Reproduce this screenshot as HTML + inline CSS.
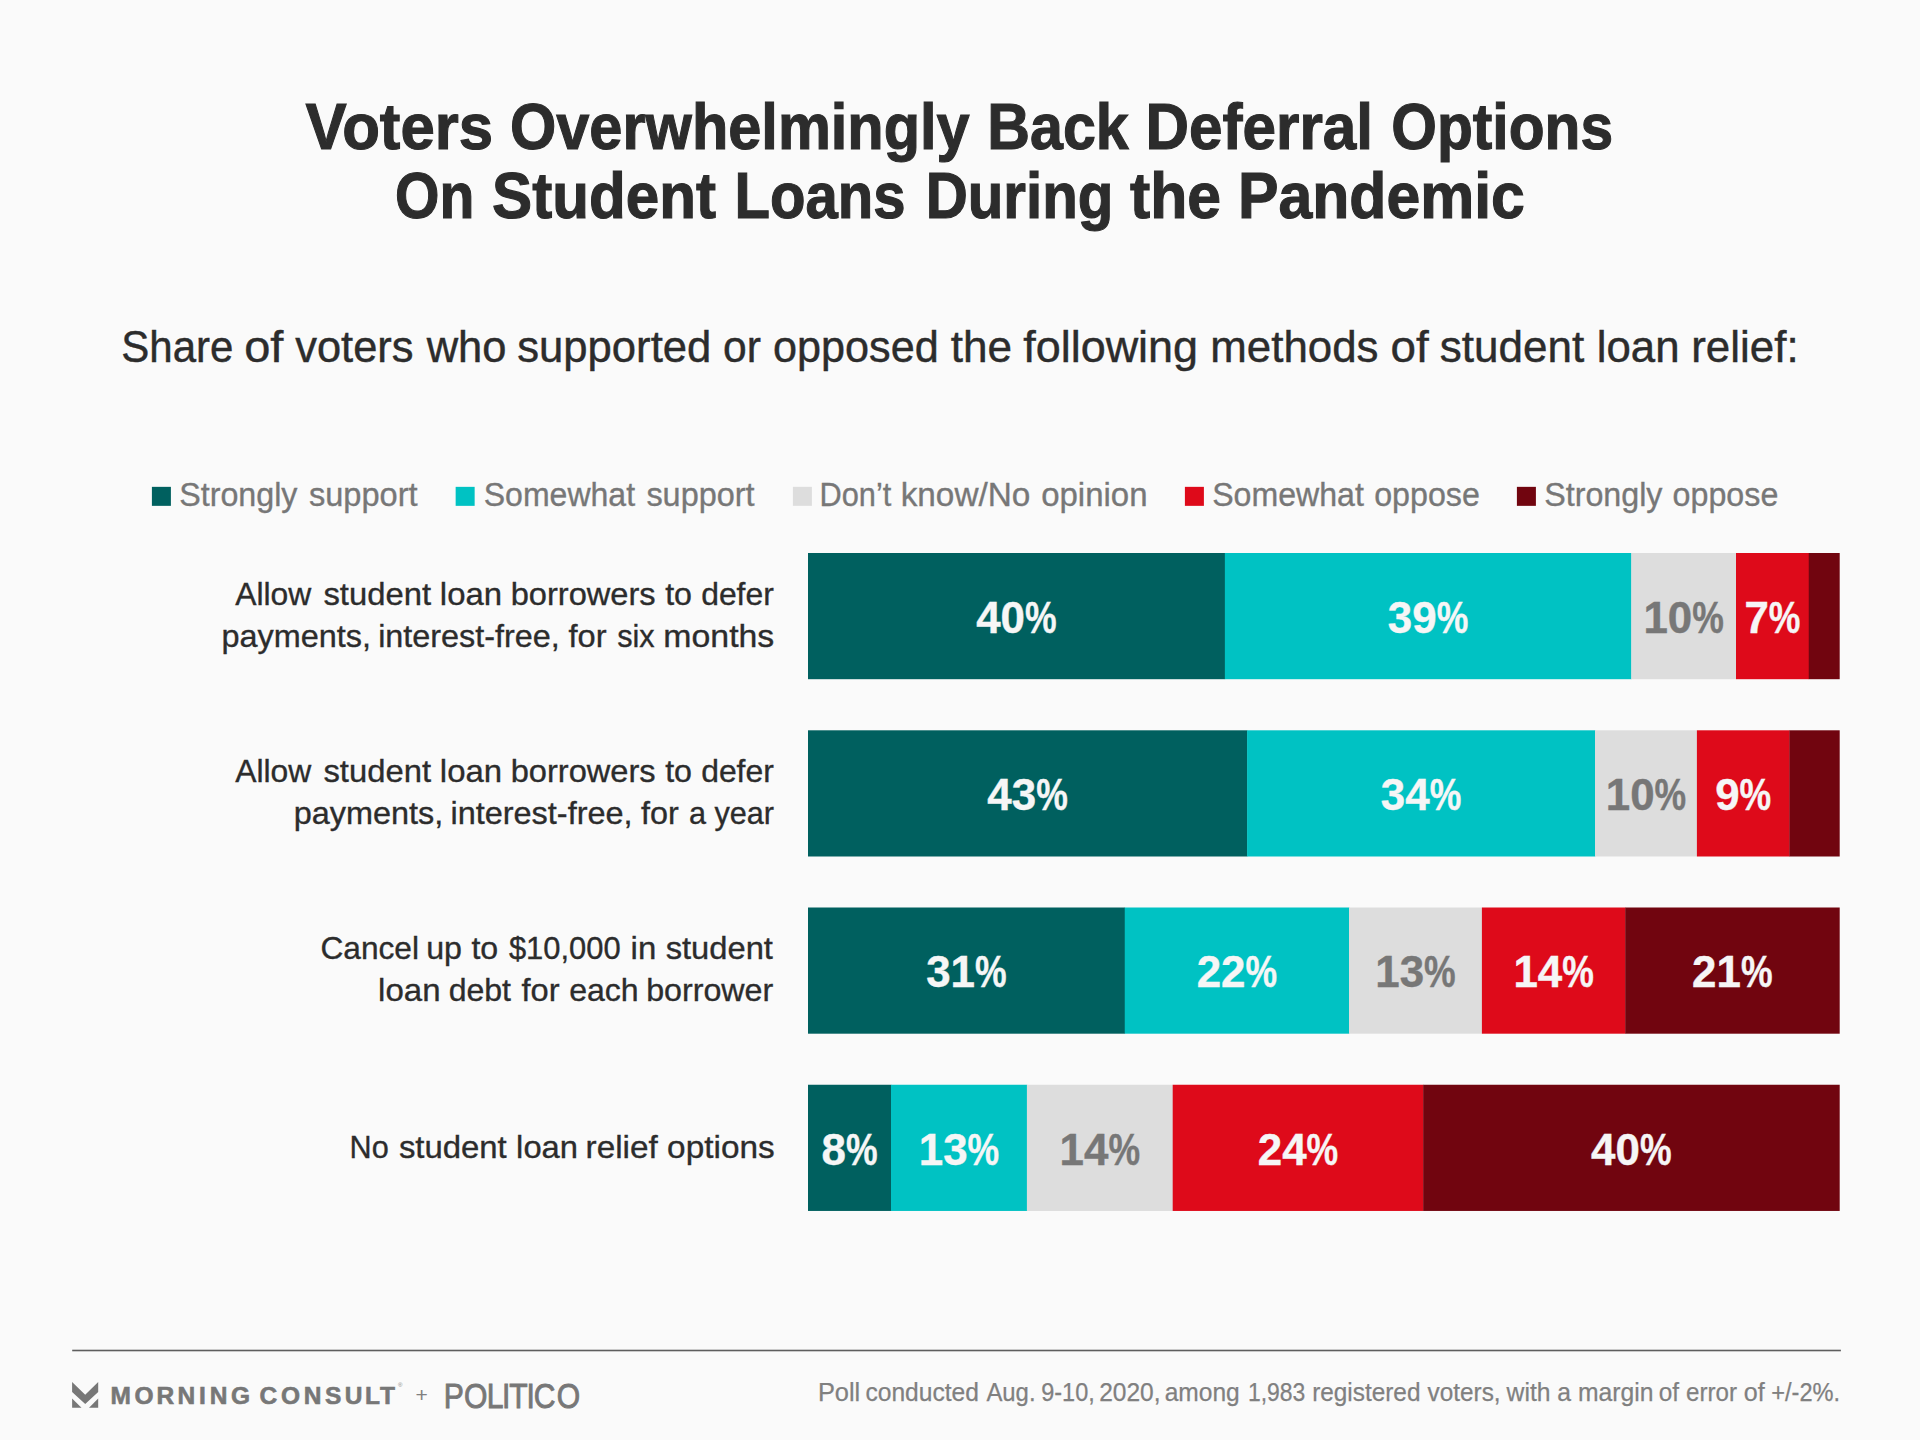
<!DOCTYPE html>
<html lang="en">
<head>
<meta charset="utf-8">
<title>Voters Overwhelmingly Back Deferral Options On Student Loans During the Pandemic</title>
<style>
html,body{margin:0;padding:0;background:#fafafa;}
body{width:1920px;height:1440px;overflow:hidden;}
svg{display:block;}
text{font-family:"Liberation Sans", Arial, sans-serif;}
</style>
</head>
<body>
<svg class="chart-card" role="img" width="1920" height="1440" viewBox="0 0 1920 1440">
<rect class="background" x="0" y="0" width="1920" height="1440" fill="#fafafa"/>
<g class="title">
<text y="149.30" font-size="64.30" font-weight="700" fill="#2c2c2c" stroke="#2c2c2c" stroke-width="1.10"><tspan x="305.55" textLength="187.59" lengthAdjust="spacingAndGlyphs">Voters</tspan> <tspan x="509.95" textLength="459.78" lengthAdjust="spacingAndGlyphs">Overwhelmingly</tspan> <tspan x="987.37" textLength="141.36" lengthAdjust="spacingAndGlyphs">Back</tspan> <tspan x="1145.56" textLength="227.51" lengthAdjust="spacingAndGlyphs">Deferral</tspan> <tspan x="1391.22" textLength="221.83" lengthAdjust="spacingAndGlyphs">Options</tspan></text>
<text y="218.30" font-size="64.30" font-weight="700" fill="#2c2c2c" stroke="#2c2c2c" stroke-width="1.10"><tspan x="395.02" textLength="79.34" lengthAdjust="spacingAndGlyphs">On</tspan> <tspan x="492.11" textLength="223.97" lengthAdjust="spacingAndGlyphs">Student</tspan> <tspan x="734.44" textLength="171.10" lengthAdjust="spacingAndGlyphs">Loans</tspan> <tspan x="925.68" textLength="187.65" lengthAdjust="spacingAndGlyphs">During</tspan> <tspan x="1130.05" textLength="91.06" lengthAdjust="spacingAndGlyphs">the</tspan> <tspan x="1238.02" textLength="286.84" lengthAdjust="spacingAndGlyphs">Pandemic</tspan></text>
</g>
<g class="subtitle">
<text y="361.52" font-size="44.60" font-weight="400" fill="#2c2c2c" stroke="#2c2c2c" stroke-width="0.45"><tspan x="121.34" textLength="112.13" lengthAdjust="spacingAndGlyphs">Share</tspan> <tspan x="244.17" textLength="39.21" lengthAdjust="spacingAndGlyphs">of</tspan> <tspan x="295.23" textLength="118.31" lengthAdjust="spacingAndGlyphs">voters</tspan> <tspan x="426.70" textLength="79.83" lengthAdjust="spacingAndGlyphs">who</tspan> <tspan x="517.25" textLength="194.02" lengthAdjust="spacingAndGlyphs">supported</tspan> <tspan x="723.02" textLength="37.86" lengthAdjust="spacingAndGlyphs">or</tspan> <tspan x="773.01" textLength="165.73" lengthAdjust="spacingAndGlyphs">opposed</tspan> <tspan x="950.73" textLength="61.33" lengthAdjust="spacingAndGlyphs">the</tspan> <tspan x="1023.23" textLength="174.87" lengthAdjust="spacingAndGlyphs">following</tspan> <tspan x="1210.26" textLength="168.29" lengthAdjust="spacingAndGlyphs">methods</tspan> <tspan x="1390.45" textLength="38.20" lengthAdjust="spacingAndGlyphs">of</tspan> <tspan x="1439.74" textLength="144.43" lengthAdjust="spacingAndGlyphs">student</tspan> <tspan x="1596.78" textLength="82.74" lengthAdjust="spacingAndGlyphs">loan</tspan> <tspan x="1691.26" textLength="107.36" lengthAdjust="spacingAndGlyphs">relief:</tspan></text>
</g>
<g class="legend">
<g class="legend-item">
<rect class="swatch" x="151.90" y="486.85" width="19" height="19" fill="#00605f"/>
<text y="505.82" font-size="33.30" font-weight="400" fill="#777777" stroke="#777777" stroke-width="0.35"><tspan x="179.21" textLength="118.28" lengthAdjust="spacingAndGlyphs">Strongly</tspan> <tspan x="308.93" textLength="108.65" lengthAdjust="spacingAndGlyphs">support</tspan></text>
</g>
<g class="legend-item">
<rect class="swatch" x="455.65" y="486.85" width="19" height="19" fill="#00c2c3"/>
<text y="505.82" font-size="33.30" font-weight="400" fill="#777777" stroke="#777777" stroke-width="0.35"><tspan x="483.71" textLength="151.35" lengthAdjust="spacingAndGlyphs">Somewhat</tspan> <tspan x="646.42" textLength="108.14" lengthAdjust="spacingAndGlyphs">support</tspan></text>
</g>
<g class="legend-item">
<rect class="swatch" x="792.90" y="486.85" width="19" height="19" fill="#dddddd"/>
<text y="505.82" font-size="33.30" font-weight="400" fill="#777777" stroke="#777777" stroke-width="0.35"><tspan x="819.58" textLength="71.73" lengthAdjust="spacingAndGlyphs">Don’t</tspan> <tspan x="900.67" textLength="129.67" lengthAdjust="spacingAndGlyphs">know/No</tspan> <tspan x="1041.18" textLength="106.39" lengthAdjust="spacingAndGlyphs">opinion</tspan></text>
</g>
<g class="legend-item">
<rect class="swatch" x="1184.90" y="486.85" width="19" height="19" fill="#de0a1a"/>
<text y="505.82" font-size="33.30" font-weight="400" fill="#777777" stroke="#777777" stroke-width="0.35"><tspan x="1212.21" textLength="151.61" lengthAdjust="spacingAndGlyphs">Somewhat</tspan> <tspan x="1374.21" textLength="105.62" lengthAdjust="spacingAndGlyphs">oppose</tspan></text>
</g>
<g class="legend-item">
<rect class="swatch" x="1516.90" y="486.85" width="19" height="19" fill="#71050f"/>
<text y="505.82" font-size="33.30" font-weight="400" fill="#777777" stroke="#777777" stroke-width="0.35"><tspan x="1544.21" textLength="118.28" lengthAdjust="spacingAndGlyphs">Strongly</tspan> <tspan x="1672.61" textLength="105.72" lengthAdjust="spacingAndGlyphs">oppose</tspan></text>
</g>
</g>
<g class="chart">
<g class="row">
<g class="row-label">
<text y="604.62" font-size="32.20" font-weight="400" fill="#2c2c2c" stroke="#2c2c2c" stroke-width="0.35"><tspan x="235.18" textLength="76.10" lengthAdjust="spacingAndGlyphs">Allow</tspan> <tspan x="323.48" textLength="107.59" lengthAdjust="spacingAndGlyphs">student</tspan> <tspan x="439.83" textLength="62.24" lengthAdjust="spacingAndGlyphs">loan</tspan> <tspan x="510.65" textLength="144.98" lengthAdjust="spacingAndGlyphs">borrowers</tspan> <tspan x="665.17" textLength="26.85" lengthAdjust="spacingAndGlyphs">to</tspan> <tspan x="701.19" textLength="72.56" lengthAdjust="spacingAndGlyphs">defer</tspan></text>
<text y="646.53" font-size="32.20" font-weight="400" fill="#2c2c2c" stroke="#2c2c2c" stroke-width="0.35"><tspan x="221.46" textLength="149.52" lengthAdjust="spacingAndGlyphs">payments,</tspan> <tspan x="378.16" textLength="181.61" lengthAdjust="spacingAndGlyphs">interest-free,</tspan> <tspan x="568.47" textLength="38.06" lengthAdjust="spacingAndGlyphs">for</tspan> <tspan x="617.17" textLength="37.44" lengthAdjust="spacingAndGlyphs">six</tspan> <tspan x="663.37" textLength="110.90" lengthAdjust="spacingAndGlyphs">months</tspan></text>
</g>
<g class="bar">
<rect class="segment" x="808.00" y="553.00" width="417.15" height="126.20" fill="#00605f"/>
<rect class="segment" x="1224.85" y="553.00" width="406.70" height="126.20" fill="#00c2c3"/>
<rect class="segment" x="1631.25" y="553.00" width="105.05" height="126.20" fill="#dddddd"/>
<rect class="segment" x="1736.00" y="553.00" width="73.05" height="126.20" fill="#de0a1a"/>
<rect class="segment" x="1808.75" y="553.00" width="30.95" height="126.20" fill="#71050f"/>
<text y="633.00" font-size="44.40" font-weight="700" fill="#f6f6f6" stroke="#f6f6f6" stroke-width="0.40"><tspan x="976.22" textLength="48.80" lengthAdjust="spacingAndGlyphs">40</tspan><tspan x="1025.02" textLength="31.60" lengthAdjust="spacingAndGlyphs">%</tspan></text>
<text y="633.00" font-size="44.40" font-weight="700" fill="#f6f6f6" stroke="#f6f6f6" stroke-width="0.40"><tspan x="1387.85" textLength="48.80" lengthAdjust="spacingAndGlyphs">39</tspan><tspan x="1436.65" textLength="31.60" lengthAdjust="spacingAndGlyphs">%</tspan></text>
<text y="633.00" font-size="44.40" font-weight="700" fill="#777777" stroke="#777777" stroke-width="0.40"><tspan x="1643.42" textLength="48.80" lengthAdjust="spacingAndGlyphs">10</tspan><tspan x="1692.22" textLength="31.60" lengthAdjust="spacingAndGlyphs">%</tspan></text>
<text y="633.00" font-size="44.40" font-weight="700" fill="#f6f6f6" stroke="#f6f6f6" stroke-width="0.40"><tspan x="1744.38" textLength="24.40" lengthAdjust="spacingAndGlyphs">7</tspan><tspan x="1768.78" textLength="31.60" lengthAdjust="spacingAndGlyphs">%</tspan></text>
</g>
</g>
<g class="row">
<g class="row-label">
<text y="782.03" font-size="32.20" font-weight="400" fill="#2c2c2c" stroke="#2c2c2c" stroke-width="0.35"><tspan x="235.18" textLength="76.10" lengthAdjust="spacingAndGlyphs">Allow</tspan> <tspan x="323.48" textLength="107.59" lengthAdjust="spacingAndGlyphs">student</tspan> <tspan x="439.83" textLength="62.24" lengthAdjust="spacingAndGlyphs">loan</tspan> <tspan x="510.65" textLength="144.98" lengthAdjust="spacingAndGlyphs">borrowers</tspan> <tspan x="665.17" textLength="26.85" lengthAdjust="spacingAndGlyphs">to</tspan> <tspan x="701.19" textLength="72.56" lengthAdjust="spacingAndGlyphs">defer</tspan></text>
<text y="823.83" font-size="32.20" font-weight="400" fill="#2c2c2c" stroke="#2c2c2c" stroke-width="0.35"><tspan x="293.76" textLength="149.52" lengthAdjust="spacingAndGlyphs">payments,</tspan> <tspan x="450.46" textLength="182.12" lengthAdjust="spacingAndGlyphs">interest-free,</tspan> <tspan x="640.97" textLength="37.77" lengthAdjust="spacingAndGlyphs">for</tspan> <tspan x="688.92" textLength="85.13" lengthAdjust="spacingAndGlyphs">a year</tspan></text>
</g>
<g class="bar">
<rect class="segment" x="808.00" y="730.30" width="439.40" height="126.20" fill="#00605f"/>
<rect class="segment" x="1247.10" y="730.30" width="348.20" height="126.20" fill="#00c2c3"/>
<rect class="segment" x="1595.00" y="730.30" width="102.20" height="126.20" fill="#dddddd"/>
<rect class="segment" x="1696.90" y="730.30" width="92.80" height="126.20" fill="#de0a1a"/>
<rect class="segment" x="1789.40" y="730.30" width="50.30" height="126.20" fill="#71050f"/>
<text y="810.00" font-size="44.40" font-weight="700" fill="#f6f6f6" stroke="#f6f6f6" stroke-width="0.40"><tspan x="987.35" textLength="48.80" lengthAdjust="spacingAndGlyphs">43</tspan><tspan x="1036.15" textLength="31.60" lengthAdjust="spacingAndGlyphs">%</tspan></text>
<text y="810.00" font-size="44.40" font-weight="700" fill="#f6f6f6" stroke="#f6f6f6" stroke-width="0.40"><tspan x="1380.85" textLength="48.80" lengthAdjust="spacingAndGlyphs">34</tspan><tspan x="1429.65" textLength="31.60" lengthAdjust="spacingAndGlyphs">%</tspan></text>
<text y="810.00" font-size="44.40" font-weight="700" fill="#777777" stroke="#777777" stroke-width="0.40"><tspan x="1605.75" textLength="48.80" lengthAdjust="spacingAndGlyphs">10</tspan><tspan x="1654.55" textLength="31.60" lengthAdjust="spacingAndGlyphs">%</tspan></text>
<text y="810.00" font-size="44.40" font-weight="700" fill="#f6f6f6" stroke="#f6f6f6" stroke-width="0.40"><tspan x="1715.15" textLength="24.40" lengthAdjust="spacingAndGlyphs">9</tspan><tspan x="1739.55" textLength="31.60" lengthAdjust="spacingAndGlyphs">%</tspan></text>
</g>
</g>
<g class="row">
<g class="row-label">
<text y="959.12" font-size="32.20" font-weight="400" fill="#2c2c2c" stroke="#2c2c2c" stroke-width="0.35"><tspan x="320.44" textLength="98.50" lengthAdjust="spacingAndGlyphs">Cancel</tspan> <tspan x="426.18" textLength="35.80" lengthAdjust="spacingAndGlyphs">up</tspan> <tspan x="471.43" textLength="26.80" lengthAdjust="spacingAndGlyphs">to</tspan> <tspan x="508.93" textLength="111.77" lengthAdjust="spacingAndGlyphs">$10,000</tspan> <tspan x="630.63" textLength="25.64" lengthAdjust="spacingAndGlyphs">in</tspan> <tspan x="665.67" textLength="107.29" lengthAdjust="spacingAndGlyphs">student</tspan></text>
<text y="1000.93" font-size="32.20" font-weight="400" fill="#2c2c2c" stroke="#2c2c2c" stroke-width="0.35"><tspan x="378.12" textLength="62.40" lengthAdjust="spacingAndGlyphs">loan</tspan> <tspan x="448.68" textLength="62.34" lengthAdjust="spacingAndGlyphs">debt</tspan> <tspan x="521.42" textLength="38.11" lengthAdjust="spacingAndGlyphs">for</tspan> <tspan x="569.18" textLength="69.54" lengthAdjust="spacingAndGlyphs">each</tspan> <tspan x="646.17" textLength="127.12" lengthAdjust="spacingAndGlyphs">borrower</tspan></text>
</g>
<g class="bar">
<rect class="segment" x="808.00" y="907.50" width="317.05" height="126.20" fill="#00605f"/>
<rect class="segment" x="1124.75" y="907.50" width="224.55" height="126.20" fill="#00c2c3"/>
<rect class="segment" x="1349.00" y="907.50" width="133.20" height="126.20" fill="#dddddd"/>
<rect class="segment" x="1481.90" y="907.50" width="143.65" height="126.20" fill="#de0a1a"/>
<rect class="segment" x="1625.25" y="907.50" width="214.45" height="126.20" fill="#71050f"/>
<text y="987.00" font-size="44.40" font-weight="700" fill="#f6f6f6" stroke="#f6f6f6" stroke-width="0.40"><tspan x="926.17" textLength="48.80" lengthAdjust="spacingAndGlyphs">31</tspan><tspan x="974.97" textLength="31.60" lengthAdjust="spacingAndGlyphs">%</tspan></text>
<text y="987.00" font-size="44.40" font-weight="700" fill="#f6f6f6" stroke="#f6f6f6" stroke-width="0.40"><tspan x="1196.67" textLength="48.80" lengthAdjust="spacingAndGlyphs">22</tspan><tspan x="1245.47" textLength="31.60" lengthAdjust="spacingAndGlyphs">%</tspan></text>
<text y="987.00" font-size="44.40" font-weight="700" fill="#777777" stroke="#777777" stroke-width="0.40"><tspan x="1375.25" textLength="48.80" lengthAdjust="spacingAndGlyphs">13</tspan><tspan x="1424.05" textLength="31.60" lengthAdjust="spacingAndGlyphs">%</tspan></text>
<text y="987.00" font-size="44.40" font-weight="700" fill="#f6f6f6" stroke="#f6f6f6" stroke-width="0.40"><tspan x="1513.38" textLength="48.80" lengthAdjust="spacingAndGlyphs">14</tspan><tspan x="1562.17" textLength="31.60" lengthAdjust="spacingAndGlyphs">%</tspan></text>
<text y="987.00" font-size="44.40" font-weight="700" fill="#f6f6f6" stroke="#f6f6f6" stroke-width="0.40"><tspan x="1692.12" textLength="48.80" lengthAdjust="spacingAndGlyphs">21</tspan><tspan x="1740.92" textLength="31.60" lengthAdjust="spacingAndGlyphs">%</tspan></text>
</g>
</g>
<g class="row">
<g class="row-label">
<text y="1157.73" font-size="32.20" font-weight="400" fill="#2c2c2c" stroke="#2c2c2c" stroke-width="0.35"><tspan x="349.52" textLength="39.16" lengthAdjust="spacingAndGlyphs">No</tspan> <tspan x="398.93" textLength="107.84" lengthAdjust="spacingAndGlyphs">student</tspan> <tspan x="516.14" textLength="61.87" lengthAdjust="spacingAndGlyphs">loan</tspan> <tspan x="585.61" textLength="72.16" lengthAdjust="spacingAndGlyphs">relief</tspan> <tspan x="667.14" textLength="107.57" lengthAdjust="spacingAndGlyphs">options</tspan></text>
</g>
<g class="bar">
<rect class="segment" x="808.00" y="1084.75" width="83.30" height="126.20" fill="#00605f"/>
<rect class="segment" x="891.00" y="1084.75" width="136.20" height="126.20" fill="#00c2c3"/>
<rect class="segment" x="1026.90" y="1084.75" width="146.10" height="126.20" fill="#dddddd"/>
<rect class="segment" x="1172.70" y="1084.75" width="250.80" height="126.20" fill="#de0a1a"/>
<rect class="segment" x="1423.20" y="1084.75" width="416.50" height="126.20" fill="#71050f"/>
<text y="1165.00" font-size="44.40" font-weight="700" fill="#f6f6f6" stroke="#f6f6f6" stroke-width="0.40"><tspan x="821.50" textLength="24.40" lengthAdjust="spacingAndGlyphs">8</tspan><tspan x="845.90" textLength="31.60" lengthAdjust="spacingAndGlyphs">%</tspan></text>
<text y="1165.00" font-size="44.40" font-weight="700" fill="#f6f6f6" stroke="#f6f6f6" stroke-width="0.40"><tspan x="918.75" textLength="48.80" lengthAdjust="spacingAndGlyphs">13</tspan><tspan x="967.55" textLength="31.60" lengthAdjust="spacingAndGlyphs">%</tspan></text>
<text y="1165.00" font-size="44.40" font-weight="700" fill="#777777" stroke="#777777" stroke-width="0.40"><tspan x="1059.60" textLength="48.80" lengthAdjust="spacingAndGlyphs">14</tspan><tspan x="1108.40" textLength="31.60" lengthAdjust="spacingAndGlyphs">%</tspan></text>
<text y="1165.00" font-size="44.40" font-weight="700" fill="#f6f6f6" stroke="#f6f6f6" stroke-width="0.40"><tspan x="1257.75" textLength="48.80" lengthAdjust="spacingAndGlyphs">24</tspan><tspan x="1306.55" textLength="31.60" lengthAdjust="spacingAndGlyphs">%</tspan></text>
<text y="1165.00" font-size="44.40" font-weight="700" fill="#f6f6f6" stroke="#f6f6f6" stroke-width="0.40"><tspan x="1591.10" textLength="48.80" lengthAdjust="spacingAndGlyphs">40</tspan><tspan x="1639.90" textLength="31.60" lengthAdjust="spacingAndGlyphs">%</tspan></text>
</g>
</g>
</g>
<g class="footer">
<rect class="rule" x="72.2" y="1349.7" width="1768.7" height="1.6" fill="#5e5e5e"/>
<g class="logo-morning-consult">
<g fill="#777777">
<path d="M72.1 1381.9 L85.2 1394.8 L98.2 1381.9 L98.2 1391.9 L85.2 1404 L72.1 1391.9 Z"/>
<path d="M72.1 1398.6 L81.5 1407.75 L72.1 1407.75 Z"/>
<path d="M98.2 1398.6 L98.2 1407.75 L89 1407.75 Z"/>
</g>
<text x="110.55 134.62 156.50 177.50 198.90 209.70 230.95" y="1403.50" font-size="24.50" font-weight="700" fill="#777777" stroke="#777777" stroke-width="0.60">MORNING</text>
<text x="259.38 280.90 303.85 324.95 344.68 365.10 379.93" y="1403.50" font-size="24.50" font-weight="700" fill="#777777" stroke="#777777" stroke-width="0.60">CONSULT</text>
<text x="398.0" y="1386.6" font-size="6.0" fill="#858585">®</text>
</g>
<text x="415.4" y="1402.0" font-size="21" fill="#808080">+</text>
<g class="logo-politico">
<text x="522.12 545.88 572.79 590.47 599.26 619.38 627.88 654.97" y="1407.90" font-size="35.40" font-weight="400" fill="#777777" stroke="#777777" stroke-width="0.90" transform="scale(0.850,1)">POLITICO</text>
</g>
<g class="footnote">
<text y="1400.62" font-size="25.40" font-weight="400" fill="#808080" stroke="#808080" stroke-width="0.25"><tspan x="817.92" textLength="42.34" lengthAdjust="spacingAndGlyphs">Poll</tspan> <tspan x="865.41" textLength="113.56" lengthAdjust="spacingAndGlyphs">conducted</tspan> <tspan x="986.38" textLength="49.18" lengthAdjust="spacingAndGlyphs">Aug.</tspan> <tspan x="1041.20" textLength="53.58" lengthAdjust="spacingAndGlyphs">9-10,</tspan> <tspan x="1099.16" textLength="61.45" lengthAdjust="spacingAndGlyphs">2020,</tspan> <tspan x="1164.66" textLength="75.05" lengthAdjust="spacingAndGlyphs">among</tspan> <tspan x="1247.97" textLength="57.42" lengthAdjust="spacingAndGlyphs">1,983</tspan> <tspan x="1312.17" textLength="108.28" lengthAdjust="spacingAndGlyphs">registered</tspan> <tspan x="1427.62" textLength="72.97" lengthAdjust="spacingAndGlyphs">voters,</tspan> <tspan x="1506.60" textLength="146.87" lengthAdjust="spacingAndGlyphs">with a margin</tspan> <tspan x="1658.67" textLength="20.30" lengthAdjust="spacingAndGlyphs">of</tspan> <tspan x="1686.08" textLength="50.88" lengthAdjust="spacingAndGlyphs">error</tspan> <tspan x="1743.74" textLength="20.90" lengthAdjust="spacingAndGlyphs">of</tspan> <tspan x="1771.20" textLength="68.89" lengthAdjust="spacingAndGlyphs">+/-2%.</tspan></text>
</g>
</g>
</svg>
</body>
</html>
